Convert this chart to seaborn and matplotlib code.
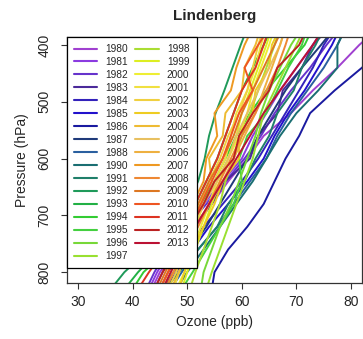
import pandas as pd
import numpy as np
import matplotlib
matplotlib.use("Agg")
import matplotlib.pyplot as plt
import seaborn as sns
from matplotlib.lines import Line2D

# pressure levels (hPa) shared by every sounding profile
pressure = [830, 800, 760, 720, 680, 640, 600, 560, 520, 480, 440, 400, 370]

years = [1980, 1981, 1982, 1983, 1984, 1985, 1986, 1987, 1988,
         1990, 1991, 1992, 1993, 1994, 1995, 1996, 1997,
         1998, 1999, 2000, 2001, 2002, 2003, 2004, 2005, 2006,
         2007, 2008, 2009, 2010, 2011, 2012, 2013]

colors = ["#a040d0", "#8b3be0", "#6633cc", "#4b2a9a", "#3322bb", "#2211cc", "#1a1aa0", "#1f3a7a", "#2a5f9f",
          "#1a6e72", "#1f7f6a", "#1f9a5a", "#22b045", "#33cc33", "#44d040", "#77d838", "#99e030",
          "#aadd33", "#ddee22", "#eeee33", "#f0e040", "#f0d040", "#eecc22", "#eebb33", "#e8c060", "#eeb040",
          "#ee9922", "#ee8833", "#dd7722", "#ee5522", "#dd3322", "#bb2222", "#bb1133"]

# ozone (ppb) at each pressure level, one list per year
o3_1980 = [43.5, 45.0, 48.0, 51.5, 54.5, 57.5, 61.0, 64.0, 69.0, 73.0, 77.5, 81.5, 85.0]
o3_1981 = [43.0, 44.5, 47.0, 50.0, 53.0, 56.5, 60.0, 62.0, 64.5, 67.0, 70.0, 73.0, 75.0]
o3_1982 = [42.5, 44.0, 46.5, 50.0, 53.5, 57.0, 60.5, 63.5, 66.0, 69.0, 72.5, 75.5, 78.0]
o3_1983 = [44.0, 45.5, 48.0, 51.0, 54.5, 57.0, 61.5, 63.0, 66.5, 67.5, 71.0, 73.0, 76.0]
o3_1984 = [45.0, 46.5, 49.5, 53.0, 56.5, 60.0, 63.0, 65.5, 68.0, 70.5, 73.0, 75.0, 77.0]
o3_1985 = [46.0, 48.0, 51.0, 54.0, 57.5, 61.0, 64.0, 66.0, 68.5, 71.5, 74.0, 76.5, 78.0]
o3_1986 = [54.5, 55.0, 57.5, 61.0, 64.0, 66.0, 68.0, 70.5, 72.5, 77.0, 82.0, 86.0, 89.0]
o3_1987 = [45.5, 47.5, 50.5, 53.5, 56.0, 58.5, 61.0, 63.0, 65.5, 68.0, 71.0, 74.5, 77.0]
o3_1988 = [47.0, 49.0, 52.0, 55.5, 58.5, 61.5, 64.5, 66.5, 69.0, 72.0, 75.0, 77.5, 79.0]
o3_1990 = [48.0, 50.0, 53.0, 56.0, 59.0, 62.0, 64.5, 67.0, 70.0, 74.0, 77.5, 77.5, 79.0]
o3_1991 = [46.0, 48.5, 52.0, 55.5, 57.5, 60.5, 62.5, 65.0, 66.5, 69.5, 71.0, 73.5, 75.0]
o3_1992 = [36.0, 38.5, 43.0, 47.0, 50.0, 52.0, 53.2, 54.0, 55.2, 56.8, 58.3, 59.8, 61.0]
o3_1993 = [38.5, 41.0, 45.0, 48.5, 51.5, 53.5, 55.5, 57.0, 58.5, 60.0, 62.0, 64.0, 65.5]
o3_1994 = [40.0, 42.0, 46.5, 50.0, 52.5, 55.0, 57.0, 59.0, 61.5, 64.5, 68.0, 71.5, 73.0]
o3_1995 = [49.0, 51.0, 53.5, 56.0, 58.5, 60.0, 59.5, 61.0, 64.5, 66.5, 68.5, 71.0, 72.0]
o3_1996 = [52.5, 53.0, 54.5, 56.0, 58.0, 59.5, 61.0, 62.5, 63.5, 65.0, 67.0, 69.0, 71.0]
o3_1997 = [53.5, 54.5, 56.0, 57.5, 59.0, 60.5, 62.0, 63.0, 64.0, 66.0, 68.0, 70.0, 71.5]
o3_1998 = [50.5, 51.5, 53.0, 54.5, 56.0, 57.0, 58.5, 60.0, 61.5, 63.0, 64.5, 66.0, 67.0]
o3_1999 = [49.0, 50.0, 51.5, 53.0, 54.5, 56.0, 57.5, 59.0, 60.0, 61.5, 63.0, 64.5, 65.5]
o3_2000 = [48.0, 49.5, 51.0, 52.5, 54.0, 55.5, 57.5, 59.5, 61.0, 62.0, 63.5, 65.0, 66.0]
o3_2001 = [47.5, 48.5, 50.0, 51.5, 53.0, 55.0, 57.0, 58.0, 59.0, 61.0, 62.5, 63.5, 64.5]
o3_2002 = [46.5, 48.0, 49.5, 51.0, 52.5, 54.0, 56.0, 57.5, 59.5, 61.0, 62.0, 63.0, 64.0]
o3_2003 = [48.5, 49.5, 51.0, 53.0, 55.0, 56.5, 59.5, 59.5, 62.0, 62.5, 65.0, 65.5, 67.0]
o3_2004 = [47.0, 48.5, 50.0, 51.0, 52.0, 54.5, 54.0, 56.5, 57.0, 60.0, 60.5, 62.5, 63.5]
o3_2005 = [45.5, 47.0, 49.0, 51.0, 53.0, 55.5, 57.5, 59.0, 61.0, 63.0, 65.0, 67.0, 68.0]
o3_2006 = [46.0, 47.5, 49.5, 51.5, 54.0, 56.5, 58.5, 60.5, 62.5, 64.0, 65.5, 67.0, 68.0]
o3_2007 = [45.0, 46.5, 48.0, 49.5, 51.0, 53.0, 53.5, 55.5, 55.0, 58.0, 59.0, 60.5, 62.0]
o3_2008 = [46.0, 47.5, 49.5, 52.0, 54.0, 56.0, 58.0, 60.0, 62.5, 64.5, 66.5, 68.0, 69.0]
o3_2009 = [44.5, 46.0, 48.0, 50.0, 52.0, 54.0, 56.5, 58.5, 60.0, 62.0, 64.0, 66.0, 67.5]
o3_2010 = [45.0, 46.5, 48.5, 50.5, 52.5, 54.5, 56.5, 58.0, 59.5, 62.0, 60.5, 63.0, 65.0]
o3_2011 = [41.0, 43.0, 46.0, 49.0, 51.5, 53.5, 55.5, 57.0, 58.5, 60.0, 62.5, 64.0, 65.0]
o3_2012 = [44.0, 45.5, 48.0, 50.5, 53.0, 55.0, 58.5, 59.5, 62.0, 65.0, 66.5, 70.5, 72.0]
o3_2013 = [45.5, 47.0, 49.0, 51.5, 54.0, 56.5, 59.0, 61.5, 64.0, 67.0, 70.0, 73.0, 75.0]

profiles = [o3_1980, o3_1981, o3_1982, o3_1983, o3_1984, o3_1985, o3_1986, o3_1987, o3_1988,
            o3_1990, o3_1991, o3_1992, o3_1993, o3_1994, o3_1995, o3_1996, o3_1997,
            o3_1998, o3_1999, o3_2000, o3_2001, o3_2002, o3_2003, o3_2004, o3_2005, o3_2006,
            o3_2007, o3_2008, o3_2009, o3_2010, o3_2011, o3_2012, o3_2013]

rows = []
for yr, vals in zip(years, profiles):
    for p, v in zip(pressure, vals):
        rows.append({"year": str(yr), "pressure": p, "ozone": v})
df = pd.DataFrame(rows)

sns.set_theme(style="ticks")
plt.rcParams['font.family'] = ['Liberation Sans', 'DejaVu Sans']

palette = dict(zip([str(y) for y in years], colors))

fig = plt.figure(figsize=(3.63, 3.39), dpi=100)
ax = fig.add_axes([67/363, 1 - 283/339, 295/363, 246/339])

sns.lineplot(data=df, x="ozone", y="pressure", hue="year", palette=palette,
             estimator=None, sort=False, legend=False, linewidth=1.4, ax=ax)

ax.set_xlim(28, 82)
ax.set_ylim(819, 386)
ax.set_xticks([30, 40, 50, 60, 70, 80])
ax.set_yticks([400, 500, 600, 700, 800])
ax.tick_params(axis="both", labelsize=10, length=4, width=0.8, color="#333333")
ax.tick_params(axis="x", pad=5)
ax.tick_params(axis="y", pad=7)
plt.setp(ax.get_yticklabels(), rotation=90, va="center")
for s in ax.spines.values():
    s.set_color("#333333")
    s.set_linewidth(0.9)

ax.set_xlabel("Ozone (ppb)", fontsize=10)
ax.set_ylabel("Pressure (hPa)", fontsize=10, labelpad=6)
ax.set_title("Lindenberg", fontsize=11, fontweight="bold", pad=12)

handles = [Line2D([], [], color=c, lw=1.5) for c in colors]
leg = ax.legend(handles, [str(y) for y in years], ncol=2, loc="upper left",
                borderaxespad=0, fontsize=7.3, frameon=True, fancybox=False,
                framealpha=1, edgecolor="black", handlelength=2.3,
                handletextpad=0.8, columnspacing=0.7, labelspacing=0.29,
                borderpad=0.7)
leg.get_frame().set_linewidth(0.9)

fig.savefig("out.png", dpi=100)
